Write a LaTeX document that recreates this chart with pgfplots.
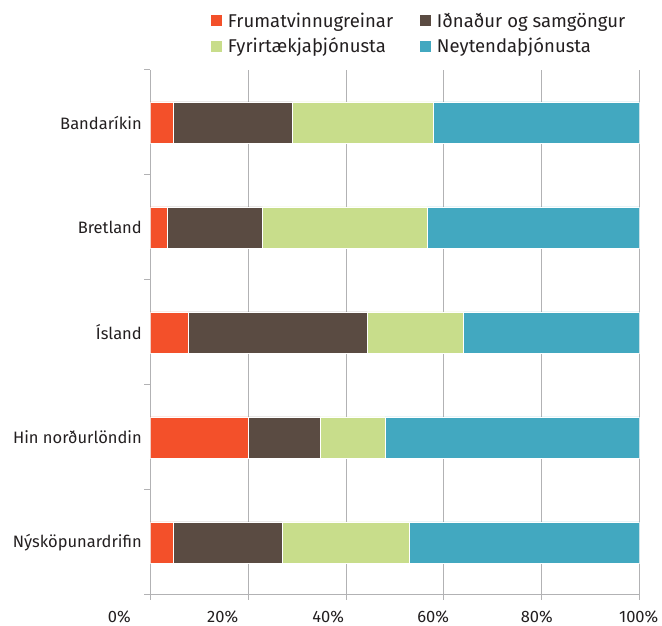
\documentclass[border=0pt]{standalone}
\usepackage{pgfplots}
\pgfplotsset{compat=1.18}
\usepackage{fontspec}
\setmainfont{Fira Sans}
\definecolor{cOr}{RGB}{243,80,42}
\definecolor{cBr}{RGB}{90,75,66}
\definecolor{cGr}{RGB}{200,221,139}
\definecolor{cTe}{RGB}{66,168,192}
\definecolor{gridgray}{RGB}{178,178,180}
\definecolor{txt}{RGB}{35,31,32}
\begin{document}
\begin{tikzpicture}
\useasboundingbox (-150.3pt,-31pt) rectangle (511.7pt,595pt);
\begin{axis}[
  at={(0,0)}, anchor=south west,
  scale only axis, width=489.4pt, height=525pt,
  xmin=0, xmax=100, ymin=-0.5, ymax=4.5,
  xbar stacked, bar width=41pt,
  axis x line*=bottom, axis y line*=left,
  axis line style={draw=gridgray, line width=1pt},
  tick align=outside,
  xtick={0,20,40,60,80,100},
  xticklabels={\makebox[0pt]{\hspace*{-62pt}0\%},\makebox[0pt]{\hspace*{-51pt}20\%},\makebox[0pt]{\hspace*{-35.6pt}40\%},\makebox[0pt]{\hspace*{-21.4pt}60\%},\makebox[0pt]{\hspace*{-10pt}80\%},\makebox[0pt]{\hspace*{-2pt}100\%}},
  xmajorgrids, grid style={draw=gridgray, line width=1pt},
  major x tick style={draw=gridgray, line width=1pt},
  major tick length=5pt,
  ytick={0,1,2,3,4},
  yticklabels={Nýsköpunardrifin,Hin norðurlöndin,Ísland,Bretland,Bandaríkin},
  major y tick style={draw=none},
  minor ytick={-0.5,0.5,1.5,2.5,3.5,4.5},
  minor y tick style={draw=gridgray, line width=1pt},
  minor tick length=6pt,
  ticklabel style={font=\fontsize{16.5}{19}\selectfont, text=txt},
  xticklabel style={yshift=-7pt},
  yticklabel style={xshift=0pt},
  legend columns=2,
  legend cell align=left,
  legend style={at={(rel axis cs:0,1)}, anchor=north west, xshift=60.7pt, yshift=57pt,
    draw=none, fill=none, inner sep=0pt, outer sep=0pt, row sep=9pt,
    font=\fontsize{18.5}{21}\selectfont, text=txt,
    nodes={inner sep=0pt, outer sep=0pt},
    /tikz/every odd column/.append style={column sep=6pt},
    /tikz/every even column/.append style={column sep=0pt}},
  legend image code/.code={\fill[#1,draw=none] (0pt,-5.5pt) rectangle (11pt,5.5pt);},
  every axis plot/.append style={draw=white, line width=0.8pt},
]
\addplot[fill=cOr] coordinates {(4.8,0) (20.1,1) (7.8,2) (3.5,3) (4.8,4)};
\addplot[fill=cBr] coordinates {(22.2,0) (14.6,1) (36.5,2) (19.4,3) (24.3,4)};
\addplot[fill=cGr] coordinates {(26.0,0) (13.3,1) (19.7,2) (33.7,3) (28.8,4)};
\addplot[fill=cTe] coordinates {(47.0,0) (52.0,1) (36.0,2) (43.4,3) (42.1,4)};
\legend{\makebox[192pt][l]{Frumatvinnugreinar},Iðnaður og samgöngur,\makebox[192pt][l]{Fyrirtækjaþjónusta},Neytendaþjónusta}
\end{axis}
\end{tikzpicture}
\end{document}
